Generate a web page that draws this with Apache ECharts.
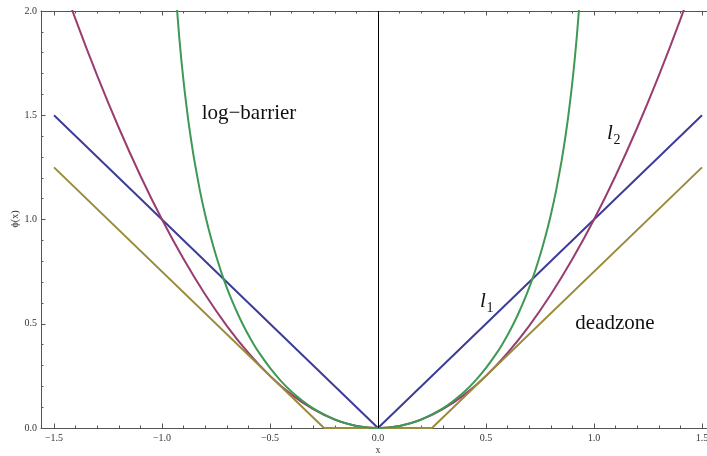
<!DOCTYPE html>
<html><head><meta charset="utf-8">
<script src="https://cdn.jsdelivr.net/npm/echarts@6/dist/echarts.min.js"></script>
<style>html,body{margin:0;padding:0;background:#fff}#c{width:707px;height:456px}</style>
</head><body><div id="c"></div>
<script>
const majorTicksX = [-1.5, -1, -0.5, 0, 0.5, 1, 1.5];
const minorTicksX = [-1.4,-1.3,-1.2,-1.1,-0.9,-0.8,-0.7,-0.6,-0.4,-0.3,-0.2,-0.1,0.1,0.2,0.3,0.4,0.6,0.7,0.8,0.9,1.1,1.2,1.3,1.4];
const yTicks = [0, 0.5, 1, 1.5, 2];

const l1X = [-1.5, 0, 1.5];
const l1Y = [1.5, 0, 1.5];

const deadX = [-1.5, -0.25, 0.25, 1.5];
const deadY = [1.25, 0, 0, 1.25];

const l2X = [-1.5,-1.4,-1.3,-1.2,-1.1,-1.0,-0.9,-0.8,-0.7,-0.6,-0.5,-0.4,-0.3,-0.2,-0.1,0,0.1,0.2,0.3,0.4,0.5,0.6,0.7,0.8,0.9,1.0,1.1,1.2,1.3,1.4,1.5];
const l2Y = [2.25,1.96,1.69,1.44,1.21,1.0,0.81,0.64,0.49,0.36,0.25,0.16,0.09,0.04,0.01,0,0.01,0.04,0.09,0.16,0.25,0.36,0.49,0.64,0.81,1.0,1.21,1.44,1.69,1.96,2.25];

const logX = [-0.94,-0.93,-0.92,-0.91,-0.90,-0.89,-0.88,-0.87,-0.86,-0.85,-0.825,-0.8,-0.775,-0.75,-0.725,-0.7,-0.675,-0.65,-0.625,-0.6,-0.575,-0.55,-0.5,-0.45,-0.4,-0.35,-0.3,-0.25,-0.2,-0.15,-0.1,-0.05,0,
  0.05,0.1,0.15,0.2,0.25,0.3,0.35,0.4,0.45,0.5,0.55,0.575,0.6,0.625,0.65,0.675,0.7,0.725,0.75,0.775,0.8,0.825,0.85,0.86,0.87,0.88,0.89,0.90,0.91,0.92,0.93,0.94];
const logY = [2.151,2.002,1.873,1.761,1.661,1.571,1.489,1.414,1.346,1.282,1.141,1.022,0.918,0.827,0.746,0.673,0.608,0.549,0.495,0.446,0.401,0.360,0.288,0.226,0.174,0.131,0.094,0.065,0.041,0.023,0.010,0.003,0,
  0.003,0.010,0.023,0.041,0.065,0.094,0.131,0.174,0.226,0.288,0.360,0.401,0.446,0.495,0.549,0.608,0.673,0.746,0.827,0.918,1.022,1.141,1.282,1.346,1.414,1.489,1.571,1.661,1.761,1.873,2.002,2.151];

const zip = (xs, ys) => xs.map((x, i) => [x, ys[i]]);

const FRAME = '#555';
const SERIF = '"Liberation Serif", "DejaVu Serif", serif';
const X_MIN = -1.5602, X_MAX = 1.5324;
const fmt = v => (v < 0 ? '\u2212' : '') + Math.abs(v).toFixed(1);

function xAx(pos, ticks, len, showLine, labels) {
  return {
    type: 'value', position: pos, min: X_MIN, max: X_MAX,
    axisLine: { show: showLine, onZero: false, lineStyle: { color: FRAME, width: 1 } },
    axisTick: { show: true, inside: true, length: len, customValues: ticks, lineStyle: { color: FRAME, width: 1 } },
    axisLabel: labels ? { show: true, customValues: ticks, formatter: fmt, margin: 5, fontFamily: SERIF, fontSize: 10, color: '#333' } : { show: false },
    splitLine: { show: false }
  };
}

const chart = echarts.init(document.getElementById('c'));
chart.setOption({
  animation: false,
  backgroundColor: '#fff',
  grid: { left: 41, top: 11, bottom: 28, right: -2, outerBoundsMode: 'none', containLabel: false },
  xAxis: [
    xAx('bottom', majorTicksX, 4.5, true, true),
    xAx('bottom', minorTicksX, 2.5, false, false),
    xAx('top', majorTicksX, 4.5, true, false),
    xAx('top', minorTicksX, 2.5, false, false)
  ],
  yAxis: [{
    type: 'value', min: 0, max: 2, interval: 0.5,
    axisLine: { show: true, onZero: false, lineStyle: { color: FRAME, width: 1 } },
    axisTick: { show: true, inside: true, length: 4.5, lineStyle: { color: FRAME } },
    minorTick: { show: true, splitNumber: 5, length: 2.5, lineStyle: { color: FRAME } },
    axisLabel: { margin: 4, formatter: fmt, fontFamily: SERIF, fontSize: 10, color: '#333' },
    splitLine: { show: false }, minorSplitLine: { show: false }
  }],
  series: [
    { name: 'l1', type: 'line', data: zip(l1X, l1Y), showSymbol: false, clip: true,
      lineStyle: { color: '#3D3D99', width: 2 },
      markLine: { silent: true, symbol: 'none', label: { show: false },
        lineStyle: { color: '#000', width: 1, type: 'solid' }, data: [{ xAxis: 0 }] } },
    { name: 'l2', type: 'line', data: zip(l2X, l2Y), showSymbol: false, smooth: 0.3, clip: true,
      lineStyle: { color: '#993D71', width: 2 } },
    { name: 'deadzone', type: 'line', data: zip(deadX, deadY), showSymbol: false, clip: true,
      lineStyle: { color: '#998C3D', width: 2 } },
    { name: 'log-barrier', type: 'line', data: zip(logX, logY), showSymbol: false, smooth: 0.2, clip: true,
      lineStyle: { color: '#3D9954', width: 2 } }
  ],
  graphic: [
    { type: 'text', x: 249, y: 113, style: { text: 'log\u2212barrier', font: '21px ' + SERIF, fill: '#111', textAlign: 'center', textVerticalAlign: 'middle' } },
    { type: 'text', x: 615, y: 323, style: { text: 'deadzone', font: '21px ' + SERIF, fill: '#111', textAlign: 'center', textVerticalAlign: 'middle' } },
    { type: 'text', x: 483, y: 301, style: { text: 'l', font: 'italic 21px ' + SERIF, fill: '#111', textAlign: 'center', textVerticalAlign: 'middle' } },
    { type: 'text', x: 486.5, y: 308, style: { text: '1', font: '14px ' + SERIF, fill: '#111', textAlign: 'left', textVerticalAlign: 'middle' } },
    { type: 'text', x: 610, y: 133, style: { text: 'l', font: 'italic 21px ' + SERIF, fill: '#111', textAlign: 'center', textVerticalAlign: 'middle' } },
    { type: 'text', x: 613.5, y: 140, style: { text: '2', font: '14px ' + SERIF, fill: '#111', textAlign: 'left', textVerticalAlign: 'middle' } },
    { type: 'text', x: 378, y: 450, style: { text: 'x', font: '10px ' + SERIF, fill: '#333', textAlign: 'center', textVerticalAlign: 'middle' } },
    { type: 'text', x: 15, y: 219, rotation: Math.PI / 2, style: { text: '\u03d5(x)', font: '10px ' + SERIF, fill: '#333', textAlign: 'center', textVerticalAlign: 'middle' } }
  ]
});
</script>
</body></html>
